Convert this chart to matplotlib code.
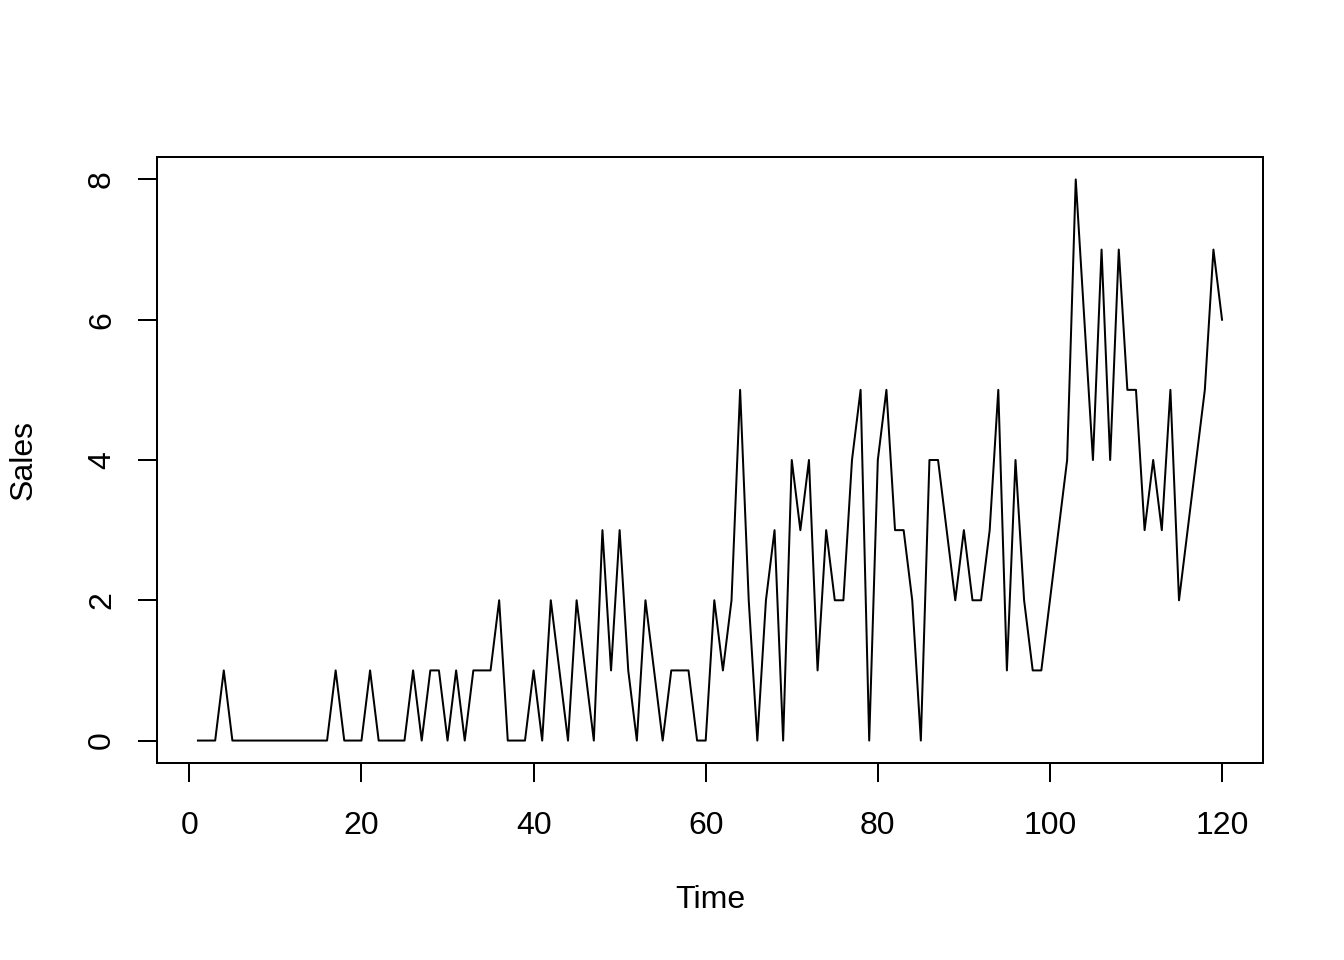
import matplotlib
matplotlib.use("Agg")
import matplotlib.pyplot as plt
import numpy as np

# monthly sales, t = 1..120
time = np.arange(1, 121)
sales = [0, 0, 0, 1, 0, 0, 0, 0, 0, 0, 0, 0, 0, 0, 0, 0, 1, 0, 0, 0,
         1, 0, 0, 0, 0, 1, 0, 1, 1, 0, 1, 0, 1, 1, 1, 2, 0, 0, 0, 1,
         0, 2, 1, 0, 2, 1, 0, 3, 1, 3, 1, 0, 2, 1, 0, 1, 1, 1, 0, 0,
         2, 1, 2, 5, 2, 0, 2, 3, 0, 4, 3, 4, 1, 3, 2, 2, 4, 5, 0, 4,
         5, 3, 3, 2, 0, 4, 4, 3, 2, 3, 2, 2, 3, 5, 1, 4, 2, 1, 1, 2,
         3, 4, 8, 6, 4, 7, 4, 7, 5, 5, 3, 4, 3, 5, 2, 3, 4, 5, 7, 6]
xticks = [0, 20, 40, 60, 80, 100, 120]
yticks = [0, 2, 4, 6, 8]

plt.rcParams['font.family'] = ['Liberation Sans', 'DejaVu Sans']
plt.rcParams['font.size'] = 12

fig = plt.figure(figsize=(7, 5), dpi=192)
ax = fig.add_axes([157/1344, 1 - 763/960, (1263-157)/1344, (763-157)/960])

ax.plot(time, sales, color="black", linewidth=0.75)

# R-style 4% axis padding
pad_x = 0.04 * (time[-1] - time[0])
ax.set_xlim(time[0] - pad_x, time[-1] + pad_x)
pad_y = 0.04 * (max(sales) - min(sales))
ax.set_ylim(min(sales) - pad_y, max(sales) + pad_y)

ax.set_xticks(xticks)
ax.set_yticks(yticks)
ax.tick_params(direction="out", length=7, width=0.75, labelsize=12)
ax.tick_params(axis="x", pad=11)
ax.tick_params(axis="y", pad=8)
for lab in ax.get_yticklabels():
    lab.set_rotation(90)
    lab.set_va("center")
for s in ax.spines.values():
    s.set_linewidth(0.75)

ax.set_xlabel("Time", fontsize=12, va="center")
ax.set_ylabel("Sales", fontsize=12, va="center")
ax.xaxis.set_label_coords(0.5, (763 - 900) / (763 - 157))
ax.yaxis.set_label_coords((24 - 157) / (1263 - 157), 0.5)

fig.savefig("out.png", dpi=192)
